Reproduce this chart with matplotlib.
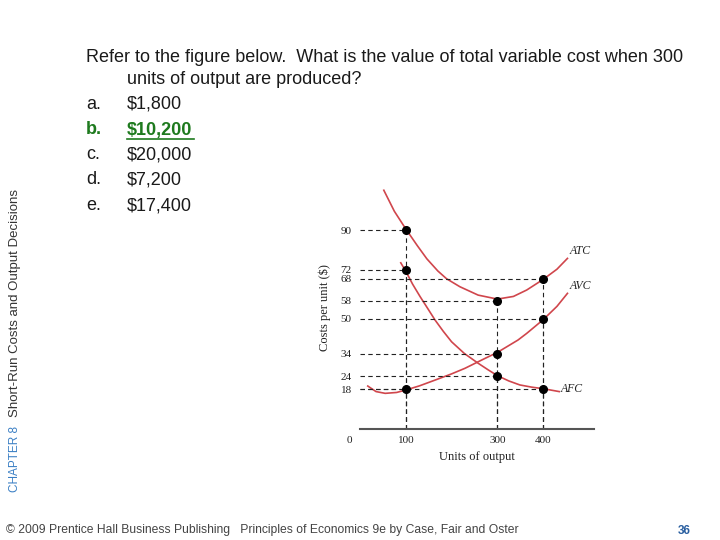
import matplotlib.pyplot as plt
from matplotlib.lines import Line2D

# points marked on the figure (units, cost per unit)
units = [100, 300, 400]
atc_pts = [90, 58, 68]
avc_pts = [18, 34, 50]
afc_pts = [72, 24, 18]

# curves
atc_x = [52, 75, 100, 125, 146, 170, 189, 218, 258, 300, 335, 364, 400, 430, 453]
atc_y = [108, 98.5, 90.5, 83, 77, 71.5, 68, 64.4, 60.6, 58.8, 60, 62.9, 67.7, 72.3, 77.2]
avc_x = [17, 35, 55, 80, 100, 130, 164, 200, 229, 273, 300, 345, 364, 400, 430, 453]
avc_y = [19.5, 17, 16.2, 16.6, 17.7, 19.6, 22.2, 25, 27.5, 32, 34.7, 40.3, 43.3, 49.5, 55.5, 61.4]
afc_x = [89, 100, 115, 131, 148, 164, 182, 200, 228, 258, 280, 300, 325, 349, 375, 400, 435]
afc_y = [75.2, 71.4, 65.5, 60, 54.5, 49.3, 44.2, 39.5, 34.2, 29.8, 26.8, 24.2, 21.8, 20, 19, 18.3, 17]

yticks = [90, 72, 68, 58, 50, 34, 24, 18]
xticks = [100, 300, 400]

question = "Refer to the figure below.  What is the value of total variable cost when 300"
question2 = "units of output are produced?"
letters = ["a.", "b.", "c.", "d.", "e."]
answers = ["$1,800", "$10,200", "$20,000", "$7,200", "$17,400"]
correct = 1

W, H = 720, 540
fig = plt.figure(figsize=(7.2, 5.4), dpi=100)
fig.patch.set_facecolor('white')

def fx(px):
    return px / W

def fy(py):
    return 1 - py / H

# chart
ax = fig.add_axes([0.5, 0.2052, 0.3244, 0.4507])
ax.set_xlim(0, 510)
ax.set_ylim(0, 110)
for s in ['top', 'right', 'left']:
    ax.spines[s].set_visible(False)
ax.spines['bottom'].set_color('#555555')
ax.spines['bottom'].set_linewidth(1.5)

red = '#d0464c'
ax.plot(atc_x, atc_y, color=red, lw=1.2)
ax.plot(avc_x, avc_y, color=red, lw=1.2)
ax.plot(afc_x, afc_y, color=red, lw=1.2)

dash = dict(color='#222222', lw=0.8, dashes=(4, 3))
for ys in [atc_pts, avc_pts, afc_pts]:
    for x, y in zip(units, ys):
        ax.plot([0, x], [y, y], **dash)
        ax.plot([x, x], [0, y], **dash)
    ax.plot(units, ys, 'o', color='black', ms=5.5, zorder=5)

serif = 'Liberation Serif'
ax.set_xticks(xticks)
ax.set_yticks(yticks)
ax.tick_params(length=0, labelsize=8, colors='#222222')
ax.tick_params(axis='y', pad=6)
ax.tick_params(axis='x', pad=5)
for lab in ax.get_xticklabels() + ax.get_yticklabels():
    lab.set_fontfamily(serif)
ax.annotate('0', xy=(0, 0), xytext=(-8, -5), textcoords='offset points',
            ha='center', va='top', fontsize=8, family=serif, color='#222222')

ax.set_ylabel('Costs per unit ($)', family=serif, fontsize=9, color='#222222', labelpad=7)
ax.set_xlabel('Units of output', family=serif, fontsize=9, color='#222222', labelpad=4)

lab = dict(family=serif, style='italic', fontsize=8.5, color='#222222')
ax.text(457, 78, 'ATC', ha='left', va='bottom', **lab)
ax.text(457, 62, 'AVC', ha='left', va='bottom', **lab)
ax.text(438, 18, 'AFC', ha='left', va='center', **lab)

# slide text
sans = 'Liberation Sans'
tc = '#1a1a1a'
fs = 13
fig.text(fx(86), fy(57), question, ha='left', va='center', fontsize=fs, family=sans, color=tc)
fig.text(fx(127), fy(80), question2, ha='left', va='center', fontsize=fs, family=sans, color=tc)
rows = [104, 130, 155, 180, 206]
for i, (l, a) in enumerate(zip(letters, answers)):
    if i == correct:
        fig.text(fx(86), fy(rows[i]), l, ha='left', va='center', fontsize=fs, family=sans,
                 color='#1e7a1e', weight='bold')
        fig.text(fx(127), fy(rows[i]), a, ha='left', va='center', fontsize=fs, family=sans,
                 color='#1e7a1e', weight='bold')
        fig.add_artist(Line2D([fx(127), fx(194)], [fy(139), fy(139)], color='#1e7a1e', lw=1.2))
    else:
        fig.text(fx(86), fy(rows[i]), l, ha='left', va='center', fontsize=fs, family=sans, color=tc)
        fig.text(fx(127), fy(rows[i]), a, ha='left', va='center', fontsize=fs, family=sans, color=tc)

fig.text(fx(15), fy(492), 'CHAPTER 8', rotation=90, ha='center', va='bottom',
         fontsize=8.5, family=sans, color='#3a7fc4')
fig.text(fx(15), fy(417), 'Short-Run Costs and Output Decisions', rotation=90, ha='center',
         va='bottom', fontsize=9.5, family=sans, color='#333333')

fig.text(fx(6), fy(530), '\u00a9 2009 Prentice Hall Business Publishing   Principles of Economics 9e by Case, Fair and Oster',
         ha='left', va='center', fontsize=8.7, family=sans, color='#444444')
fig.text(fx(684), fy(531), '36', ha='center', va='center', fontsize=8.5, family=sans,
         color='#2a5fa0', weight='bold')

fig.savefig('out.png', dpi=100)
